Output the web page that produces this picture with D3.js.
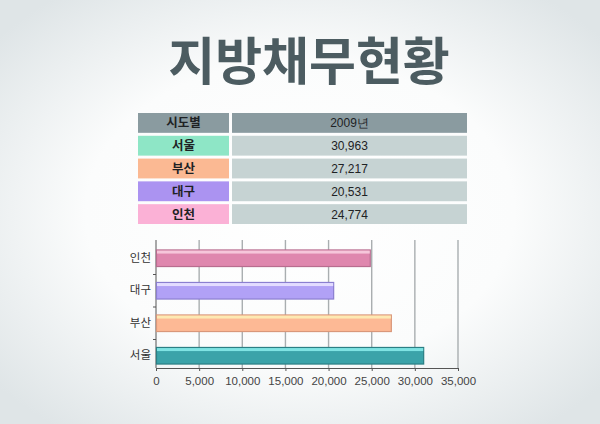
<!DOCTYPE html>
<html>
<head>
<meta charset="utf-8">
<script src="https://cdn.jsdelivr.net/npm/d3@7"></script>
<style>
  html, body { margin: 0; padding: 0; }
  body { width: 600px; height: 424px; overflow: hidden; }
  text { font-family: "Noto Sans CJK KR", "Noto Sans", sans-serif; }
</style>
</head>
<body>
<svg id="chart" width="600" height="424"></svg>
<script>
  // data
  var title = '지방채무현황';
  var headers = ['시도별', '2009년'];
  var cities = ['서울', '부산', '대구', '인천'];
  var debt = [30963, 27217, 20531, 24774];
  var xTicks = [0, 5000, 10000, 15000, 20000, 25000, 30000, 35000];

  var cellColors = ['#8ee6c6', '#fbb993', '#ab93f1', '#fbb1d6'];
  var barColors = ['#3ba3a9', '#fdb995', '#b1a1f6', '#df87ae'];
  var barTops = ['#7fe3e3', '#fde9b2', '#e3dcff', '#f6c6da'];
  var barEdges = ['#2b7f84', '#d9977a', '#8b7fd0', '#b86d8f'];

  var svg = d3.select('#chart');
  var fmt = d3.format(',');

  // background
  var defs = svg.append('defs');
  var bg = defs.append('radialGradient').attr('id', 'bg')
      .attr('cx', '50%').attr('cy', '50%').attr('r', '65%');
  bg.append('stop').attr('offset', '0%').attr('stop-color', '#ffffff');
  bg.append('stop').attr('offset', '55%').attr('stop-color', '#fbfcfc');
  bg.append('stop').attr('offset', '100%').attr('stop-color', '#dfe5e7');
  svg.append('rect').attr('width', 600).attr('height', 424).attr('fill', 'url(#bg)');

  svg.append('text')
      .attr('x', 309).attr('y', 80)
      .attr('text-anchor', 'middle')
      .attr('font-size', 51).attr('font-weight', 700)
      .attr('fill', '#4c5c61')
      .text(title);

  // table
  var table = svg.append('g');
  var colX = [138, 232], colW = [91, 235];
  var rowY = d3.scaleBand().domain(d3.range(5)).range([113, 224]).paddingInner(0.13);

  var rows = [headers].concat(cities.map(function(c, i) { return [c, fmt(debt[i])]; }));

  rows.forEach(function(r, i) {
    var ry = rowY(i), h = rowY.bandwidth();
    table.append('rect').attr('x', colX[0]).attr('y', ry).attr('width', colW[0]).attr('height', h)
        .attr('fill', i == 0 ? '#8a9ba0' : cellColors[i - 1]);
    table.append('rect').attr('x', colX[1]).attr('y', ry).attr('width', colW[1]).attr('height', h)
        .attr('fill', i == 0 ? '#8a9ba0' : '#c6d3d3');
    table.append('text').attr('x', colX[0] + colW[0] / 2).attr('y', ry + h / 2 + 4.5)
        .attr('text-anchor', 'middle').attr('font-size', 12.5).attr('font-weight', 700)
        .attr('fill', '#1e2224').text(r[0]);
    table.append('text').attr('x', colX[1] + colW[1] / 2).attr('y', ry + h / 2 + 4.5)
        .attr('text-anchor', 'middle').attr('font-size', 12)
        .style('font-family', '"Liberation Sans", Arial, sans-serif')
        .attr('fill', '#1e2224').text(r[1]);
  });

  // bar chart
  var x = d3.scaleLinear().domain([0, 35000]).range([156, 458]);
  var y = d3.scaleBand().domain(cities).range([372, 242]).paddingInner(0.49).paddingOuter(0.245);
  var plotTop = 240, plotBottom = 368;

  var g = svg.append('g');

  g.selectAll('line.grid')
      .data(xTicks.slice(1))
      .enter().append('line')
      .attr('class', 'grid')
      .attr('x1', function(d) { return x(d); }).attr('x2', function(d) { return x(d); })
      .attr('y1', plotTop).attr('y2', plotBottom)
      .attr('stroke', '#a9aeb0').attr('stroke-width', 1.4);

  var xAxis = g.append('g').attr('transform', 'translate(0,' + plotBottom + ')')
      .call(d3.axisBottom(x).tickValues(xTicks).tickSize(3).tickFormat(fmt));
  xAxis.select('.domain').attr('stroke', '#555');
  xAxis.selectAll('.tick line').attr('stroke', '#555');
  xAxis.selectAll('text').attr('font-size', 11.5).attr('fill', '#444').attr('dy', '0.95em')
      .style('font-family', '"Liberation Sans", Arial, sans-serif');

  var yAxis = g.append('g').attr('transform', 'translate(156,0)')
      .call(d3.axisLeft(y).tickSize(0).tickPadding(5));
  yAxis.select('.domain').attr('d', 'M0,' + plotTop + 'V' + plotBottom).attr('stroke', '#555');
  yAxis.selectAll('text').attr('font-size', 11.5).attr('fill', '#333');

  // small ticks between bands
  var step = y.step();
  g.selectAll('line.btick')
      .data(cities.slice(1))
      .enter().append('line')
      .attr('class', 'btick')
      .attr('x1', 153).attr('x2', 156)
      .attr('y1', function(d) { return y(d) + y.bandwidth() + (step - y.bandwidth()) / 2; })
      .attr('y2', function(d) { return y(d) + y.bandwidth() + (step - y.bandwidth()) / 2; })
      .attr('stroke', '#555');

  var bars = g.selectAll('g.bar')
      .data(cities)
      .enter().append('g').attr('class', 'bar');

  bars.append('rect')
      .attr('x', x(0) + 0.5)
      .attr('y', function(d) { return y(d); })
      .attr('width', function(d, i) { return x(debt[i]) - x(0); })
      .attr('height', y.bandwidth())
      .attr('fill', function(d, i) { return barColors[i]; })
      .attr('stroke', function(d, i) { return barEdges[i]; })
      .attr('stroke-width', 1.2);

  bars.append('rect')
      .attr('x', x(0) + 1)
      .attr('y', function(d) { return y(d) + 0.6; })
      .attr('width', function(d, i) { return x(debt[i]) - x(0) - 1; })
      .attr('height', 3)
      .attr('fill', function(d, i) { return barTops[i]; });
</script>
</body>
</html>
